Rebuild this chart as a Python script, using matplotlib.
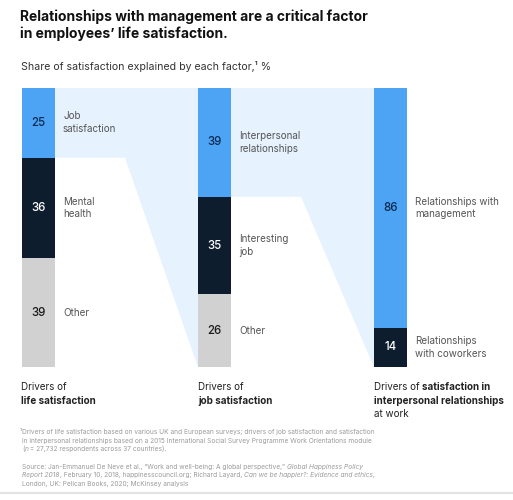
import matplotlib
matplotlib.use('Agg')
import matplotlib.pyplot as plt
from matplotlib.patches import Polygon

plt.rcParams['font.family'] = ['Inter', 'DejaVu Sans']

# data
values = [[25, 36, 39], [39, 35, 26], [86, 14]]
seg_labels = [['Job\nsatisfaction', 'Mental\nhealth', 'Other'],
              ['Interpersonal\nrelationships', 'Interesting\njob', 'Other'],
              ['Relationships with\nmanagement', 'Relationships\nwith coworkers']]
title = 'Relationships with management are a critical factor\nin employees\u2019 life satisfaction.'
subtitle = 'Share of satisfaction explained by each factor,\u00b9 %'

# styles
W, H = 513, 500
bar_colors = ['#4da4f5', '#0e1d2e', '#d1d1d1']
num_colors = ['#0b2a50', 'white', '#1a1a1a']
flow_color = '#e6f2fd'
label_color = '#555555'
note_color = '#9b9b9b'
step_px, bar_px, run_px = 176, 33, 70

fig = plt.figure(figsize=(W / 100, H / 100), dpi=100)

# chart area, percent on y (0 at top)
ax = fig.add_axes([22 / W, 1 - 367 / H, (407 - 22) / W, (367 - 88) / H])
w = bar_px / step_px
ax.set_xlim(0, 2 + w)
ax.set_ylim(100, 0)
ax.axis('off')

# flows from the top segment of one column into the next column
for i in range(len(values) - 1):
    v0 = values[i][0]
    run = run_px / step_px
    ax.add_patch(Polygon([(i + w, 0), (i + 1, 0), (i + 1, 100),
                          (i + w + run, v0), (i + w, v0)],
                         closed=True, fc=flow_color, ec='none', zorder=0))

for i, col in enumerate(values):
    bottom = 0
    for j, v in enumerate(col):
        ax.bar(i, v, width=w, bottom=bottom, align='edge', color=bar_colors[j],
               linewidth=0, zorder=2)
        mid = bottom + v / 2
        ax.text(i + w / 2, mid, str(v), ha='center', va='center', fontsize=8.3,
                fontweight='medium', color=num_colors[j], zorder=3)
        ax.text(i + w + 8 / step_px, mid, seg_labels[i][j], ha='left', va='center',
                fontsize=7.1, color=label_color, linespacing=1.35, zorder=3)
        bottom += v

# overlay in pixel coords for texts
tx = fig.add_axes([0, 0, 1, 1], zorder=5)
tx.set_xlim(0, W)
tx.set_ylim(H, 0)
tx.axis('off')
tx.patch.set_alpha(0)


def rich(x, y, parts, size, color):
    """draw a line of text made of (text, weight, style) pieces"""
    s, wt, st = parts[0]
    t = tx.text(x, y, s, fontsize=size, fontweight=wt, fontstyle=st, color=color,
                ha='left', va='baseline')
    for s, wt, st in parts[1:]:
        t = tx.annotate(s, xy=(1, 0), xycoords=t, fontsize=size, fontweight=wt,
                        fontstyle=st, color=color, ha='left', va='bottom',
                        annotation_clip=False)
    return t


tx.text(20, 9, title, fontsize=10, fontweight='bold', color='#111111',
        va='top', ha='left', linespacing=1.25)
tx.text(21, 66, subtitle, fontsize=7.6, color='#333333', va='center', ha='left')

# column captions
N, B = 'normal', 'bold'
cap_color = '#222222'
cs = 7.1
col_x = [21, 198, 374]
rich(col_x[0], 390, [('Drivers of', N, N)], cs, cap_color)
rich(col_x[0], 404, [('life satisfaction', B, N)], cs, cap_color)
rich(col_x[1], 390, [('Drivers of', N, N)], cs, cap_color)
rich(col_x[1], 404, [('job satisfaction', B, N)], cs, cap_color)
rich(col_x[2], 390, [('Drivers of ', N, N), ('satisfaction in', B, N)], cs, cap_color)
rich(col_x[2], 404, [('interpersonal relationships', B, N)], cs, cap_color)
rich(col_x[2], 417, [('at work', N, N)], cs, cap_color)

# notes
fs = 4.75
rich(20, 434, [('\u00b9Drivers of life satisfaction based on various UK and European surveys; '
                'drivers of job satisfaction and satisfaction', N, N)], fs, note_color)
rich(22, 442.5, [('in interpersonal relationships based on a 2015 International Social Survey '
                  'Programme Work Orientations module', N, N)], fs, note_color)
rich(22, 451, [('(', N, N), ('n', N, 'italic'), (' = 27,732 respondents across 37 countries).', N, N)],
     fs, note_color)
rich(22, 469, [('Source: Jan-Emmanuel De Neve et al., \u201cWork and well-being: A global perspective,\u201d ', N, N),
               ('Global Happiness Policy', N, 'italic')], fs, note_color)
rich(22, 477.5, [('Report 2018', N, 'italic'),
                 (', February 10, 2018, happinesscouncil.org; Richard Layard, ', N, N),
                 ('Can we be happier?: Evidence and ethics', N, 'italic'), (',', N, N)], fs, note_color)
rich(22, 486, [('London, UK: Pelican Books, 2020; McKinsey analysis', N, N)], fs, note_color)

tx.plot([0, W], [493, 493], color='#e3e3e3', lw=1.5, solid_capstyle='butt')

fig.savefig('out.png', dpi=100, facecolor='white')
